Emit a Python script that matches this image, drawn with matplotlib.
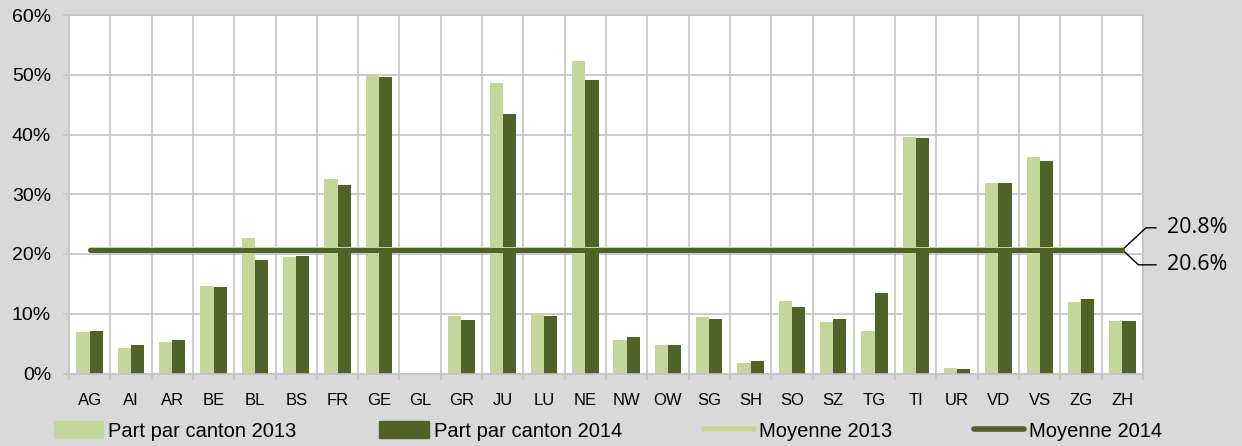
import numpy as np
import matplotlib.pyplot as plt
from matplotlib.lines import Line2D
from matplotlib.patches import Patch

cantons = ["AG", "AI", "AR", "BE", "BL", "BS", "FR", "GE", "GL", "GR", "JU", "LU", "NE",
           "NW", "OW", "SG", "SH", "SO", "SZ", "TG", "TI", "UR", "VD", "VS", "ZG", "ZH"]
part_2013 = [7.0, 4.3, 5.3, 14.6, 22.6, 19.5, 32.5, 50.1, 0.0, 9.7, 48.7, 10.0, 52.3,
             5.6, 4.7, 9.5, 1.8, 12.1, 8.6, 7.1, 39.5, 0.9, 31.8, 36.2, 12.0, 8.8]
part_2014 = [7.1, 4.8, 5.6, 14.5, 19.0, 19.7, 31.5, 49.6, 0.0, 8.9, 43.4, 9.7, 49.1,
             6.1, 4.8, 9.2, 2.1, 11.2, 9.1, 13.4, 39.4, 0.75, 31.9, 35.5, 12.5, 8.8]
moyenne_2013 = 20.8
moyenne_2014 = 20.6

clair = "#C4D79B"
fonce = "#4F6228"
gris = "#C3C3C3"

plt.rcParams['font.family'] = ['Liberation Sans', 'DejaVu Sans']

fig = plt.figure(figsize=(12.42, 4.46), dpi=100, facecolor="#D9D9D9")
ax = fig.add_axes([69 / 1242, 1 - 373.5 / 446, (1143 - 69) / 1242, (373.5 - 15) / 446])
ax.set_facecolor("white")

x = np.arange(len(cantons))
w = 0.32
ax.bar(x - w / 2, part_2013, w, color=clair, zorder=2)
ax.bar(x + w / 2, part_2014, w, color=fonce, zorder=2)

# lignes des moyennes, du premier au dernier canton
ax.plot([x[0], x[-1]], [moyenne_2013] * 2, color=clair, lw=3.6, solid_capstyle='round', zorder=3)
ax.plot([x[0], x[-1]], [moyenne_2014] * 2, color=fonce, lw=3.6, solid_capstyle='round', zorder=4)

ax.set_xlim(-0.5, len(cantons) - 0.5)
ax.set_ylim(0, 60)
ax.set_yticks(np.arange(0, 61, 10))
ax.set_yticklabels([f"{v}%" for v in range(0, 61, 10)], fontsize=14)
ax.set_xticks(np.arange(-0.5, len(cantons), 1))
ax.set_xticklabels([])
ax.set_xticks(x, minor=True)
ax.set_xticklabels(cantons, minor=True, fontsize=12)
ax.tick_params(axis='x', which='major', length=4.5, width=1.2, color=gris)
ax.tick_params(axis='x', which='minor', length=0, pad=14)
ax.tick_params(axis='y', length=4.3, width=1.2, color=gris, pad=8.6)
ax.grid(True, which='major', color=gris, lw=1.2, zorder=0)
for s in ax.spines.values():
    s.set_color(gris)
    s.set_linewidth(1.2)

# étiquettes des moyennes
for val, dy, ang in [(moyenne_2013, 22, 43), (moyenne_2014, -15, -43)]:
    ax.annotate(f"{val:.1f}%", xy=(x[-1], (moyenne_2013 + moyenne_2014) / 2),
                xytext=(45, dy), textcoords='offset pixels', ha='left', va='center',
                fontsize=15.5, family=['Open Sans', 'DejaVu Sans'], annotation_clip=False,
                arrowprops=dict(arrowstyle='-', color='black', lw=1.0, shrinkA=6, shrinkB=0,
                                relpos=(0, 0.5),
                                connectionstyle=f"angle,angleA=0,angleB={ang},rad=0"))

handles = [Patch(color=clair), Patch(color=fonce),
           Line2D([], [], color=clair, lw=4, solid_capstyle='round'),
           Line2D([], [], color=fonce, lw=4, solid_capstyle='round')]
labels = ["Part par canton 2013", "Part par canton 2014", "Moyenne 2013", "Moyenne 2014"]
fig.legend(handles, labels, ncol=4, loc='center left', bbox_to_anchor=(54 / 1242, 15 / 446),
           frameon=False, fontsize=14.5, handlelength=2.45, handleheight=0.9, handletextpad=0.25,
           columnspacing=4.1, borderpad=0, borderaxespad=0)

fig.savefig("out.png", dpi=100, facecolor=fig.get_facecolor())
